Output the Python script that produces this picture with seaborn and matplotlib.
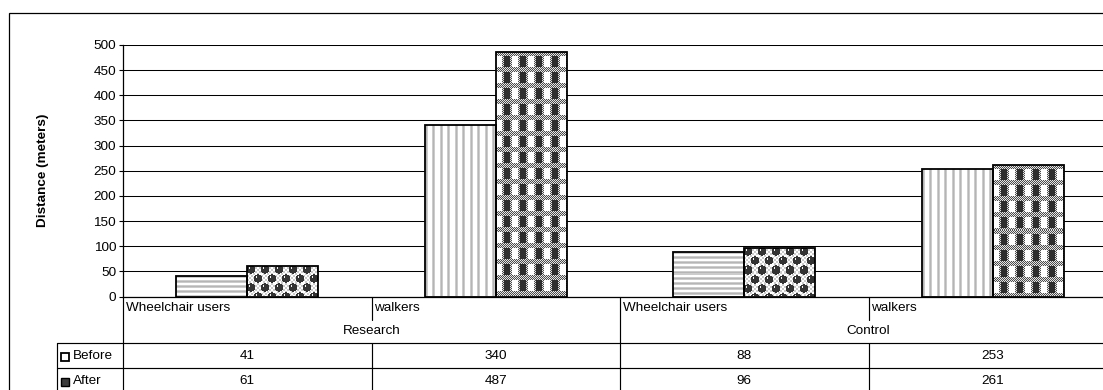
import numpy as np
import pandas as pd
import matplotlib
matplotlib.use("Agg")
import matplotlib.pyplot as plt
import matplotlib.transforms as mtransforms
from matplotlib.lines import Line2D
from matplotlib.patches import Rectangle
import seaborn as sns

# ---- data -------------------------------------------------------------
groups = ["Research", "Research", "Control", "Control"]
categories = ["Wheelchair users", "walkers", "Wheelchair users", "walkers"]
series = ["Before", "After"]
before = [41, 340, 88, 253]
after = [61, 487, 96, 261]
y_ticks = [0, 50, 100, 150, 200, 250, 300, 350, 400, 450, 500]
y_label = "Distance (meters)"

# ---- canvas -----------------------------------------------------------
W, H, DPI = 1103, 390, 100
FS = 9.7

sns.set_theme(style="white")
plt.rcParams["font.family"] = ["Liberation Sans", "DejaVu Sans"]
plt.rcParams["text.color"] = "black"


def fx(px):
    return px / W


def fy(py):
    return 1 - py / H


fig = plt.figure(figsize=(W / DPI, H / DPI), dpi=DPI)
fig.patch.set_facecolor("white")

AX_L, AX_R, AX_T, AX_B = 123, 1117, 45, 296.5
ax = fig.add_axes([fx(AX_L), fy(AX_B), (AX_R - AX_L) / W, (AX_B - AX_T) / H])
ax.set_facecolor("none")

df = pd.DataFrame({
    "slot": list(range(len(categories))) * 2,
    "series": ["Before"] * len(before) + ["After"] * len(after),
    "value": before + after,
})

sns.barplot(
    data=df, x="slot", y="value", hue="series", hue_order=series,
    order=list(range(len(categories))), width=0.5714, gap=0,
    palette=["white", "white"], saturation=1, errorbar=None,
    edgecolor="black", linewidth=1.3, legend=False, ax=ax,
)

ax.set_xlim(-0.5, len(categories) - 0.5)
ax.set_ylim(y_ticks[0], y_ticks[-1])
ax.set_yticks(y_ticks)
ax.set_xticks([])
ax.set_xlabel("")
ax.set_ylabel("")
ax.yaxis.grid(True, color="black", linewidth=0.75)
ax.set_axisbelow(True)
for side in ("top", "right"):
    ax.spines[side].set_visible(False)
for side in ("left", "bottom"):
    ax.spines[side].set_color("black")
    ax.spines[side].set_linewidth(0.9)
ax.tick_params(axis="y", direction="out", length=3, width=0.8,
               colors="black", labelsize=FS, pad=2, left=True)

# ---- pattern fills ----------------------------------------------------


def rgb(a):
    a = np.asarray(a, float)
    return np.stack([a, a, a], axis=-1)


h_stripes = rgb([[0.80], [0.71], [0.80], [1.0], [1.0]])
v_stripes = rgb([[0.80, 0.71, 0.80, 1, 1, 1, 1, 0.80, 0.71, 0.80, 1, 1, 1, 1, 1]])

# plaid: white and dark squares separated by fine dotted bands
yy, xx = np.mgrid[0:16, 0:16]
dotted = np.where((yy + xx) % 2 == 0, 0.3, 0.9)
plaid = np.ones((16, 16))
plaid[:5, :] = dotted[:5, :]
plaid[5:, 6:8] = dotted[5:, 6:8]
plaid[5:, 14:16] = dotted[5:, 14:16]
plaid[5:, 8:14] = 0.18
plaid = rgb(plaid)

# shaded balls on a light checker
by, bx = np.mgrid[0:18, 0:14]
balls = np.where((by // 2 + bx // 2) % 2 == 0, 1.0, 0.8)
for cy, cx in [(4.0, 3.5), (13.0, 10.5)]:
    for oy in (-18, 0, 18):
        for ox in (-14, 0, 14):
            d = np.hypot(by - (cy + oy), bx - (cx + ox))
            balls[d <= 4.2] = 0.2
            hl = (np.abs(by - (cy + oy - 1.6)) < 0.8) & (np.abs(bx - (cx + ox - 1.6)) < 0.8)
            balls[hl] = 0.95
balls = rgb(balls)

patterns = {
    ("Before", "Wheelchair users"): h_stripes,
    ("Before", "walkers"): v_stripes,
    ("After", "Wheelchair users"): balls,
    ("After", "walkers"): plaid,
}

fig.canvas.draw()
for p in list(ax.patches):
    cx = p.get_x() + p.get_width() / 2
    slot = int(round(cx))
    name = "Before" if cx < slot else "After"
    tile = patterns[(name, categories[slot])]
    bb = p.get_window_extent()
    w = max(int(round(bb.width)), 1)
    h = max(int(round(bb.height)), 1)
    reps = (h // tile.shape[0] + 2, w // tile.shape[1] + 2, 1)
    img = np.tile(tile, reps)[:h, :w]
    x0, y0 = p.get_x(), p.get_y()
    im = ax.imshow(img, extent=(x0, x0 + p.get_width(), y0, y0 + p.get_height()),
                   origin="upper", interpolation="nearest", aspect="auto", zorder=2)
    im.set_clip_path(p)
    p.set_facecolor("none")
    p.set_zorder(3)

ax.set_xlim(-0.5, len(categories) - 0.5)
ax.set_ylim(y_ticks[0], y_ticks[-1])
ax.set_aspect("auto")

# ---- data table under the axis --------------------------------------
trans = mtransforms.blended_transform_factory(ax.transData, fig.transFigure)
LINE = dict(color="black", linewidth=0.85, clip_on=False)

ROW_CAT_B = 343
ROW_BEF_B = 368
BOTTOM = 420
KEY_L = 57

bounds = [i - 0.5 for i in range(len(categories) + 1)]
group_edges = [bounds[0]] + [i + 0.5 for i in range(len(groups) - 1)
                             if groups[i] != groups[i + 1]] + [bounds[-1]]

for b in bounds:
    if b in group_edges:
        ax.add_line(Line2D([b, b], [fy(AX_B), fy(BOTTOM)], transform=trans, **LINE))
    else:
        ax.add_line(Line2D([b, b], [fy(AX_B), fy(320)], transform=trans, **LINE))
        ax.add_line(Line2D([b, b], [fy(ROW_CAT_B), fy(BOTTOM)], transform=trans, **LINE))

for yrow in (ROW_CAT_B, ROW_BEF_B):
    fig.add_artist(Line2D([fx(KEY_L), fx(W + 20)], [fy(yrow), fy(yrow)],
                          transform=fig.transFigure, **LINE))
fig.add_artist(Line2D([fx(KEY_L), fx(KEY_L)], [fy(ROW_CAT_B), fy(BOTTOM)],
                      transform=fig.transFigure, **LINE))

cat_trans = mtransforms.offset_copy(trans, fig=fig, x=3, y=0, units="dots")
for i, cat in enumerate(categories):
    ax.text(i - 0.5, fy(308), cat, transform=cat_trans, ha="left", va="center",
            fontsize=FS, clip_on=False)

seen = []
for g in groups:
    if g not in seen:
        seen.append(g)
for g in seen:
    idx = [i for i, gg in enumerate(groups) if gg == g]
    ax.text(np.mean(idx), fy(331), g, transform=trans, ha="center", va="center",
            fontsize=FS, clip_on=False)

for vals, yc in ((before, 356), (after, 381)):
    for i, v in enumerate(vals):
        ax.text(i, fy(yc), f"{v}", transform=trans, ha="center", va="center",
                fontsize=FS, clip_on=False)

# legend keys inside the table
fig.add_artist(Rectangle((fx(60.5), fy(361)), 8 / W, 8 / H, transform=fig.transFigure,
                         facecolor="white", edgecolor="black", linewidth=1.3))
fig.add_artist(Rectangle((fx(60.5), fy(386)), 8 / W, 8 / H, transform=fig.transFigure,
                         facecolor="#3c3c3c", edgecolor="black", linewidth=1.0))
fig.text(fx(72.5), fy(356), series[0], ha="left", va="center", fontsize=FS)
fig.text(fx(72.5), fy(381), series[1], ha="left", va="center", fontsize=FS)

# axis title
fig.text(fx(43), fy((AX_T + AX_B) / 2), y_label, rotation=90, ha="center",
         va="center", fontsize=FS, fontweight="bold")

# chart frame
fig.add_artist(Rectangle((fx(8.5), -0.2), 1.2, fy(12.5) + 0.2, transform=fig.transFigure,
                         fill=False, edgecolor="black", linewidth=0.9))

fig.savefig("out.png", dpi=DPI, facecolor="white")
